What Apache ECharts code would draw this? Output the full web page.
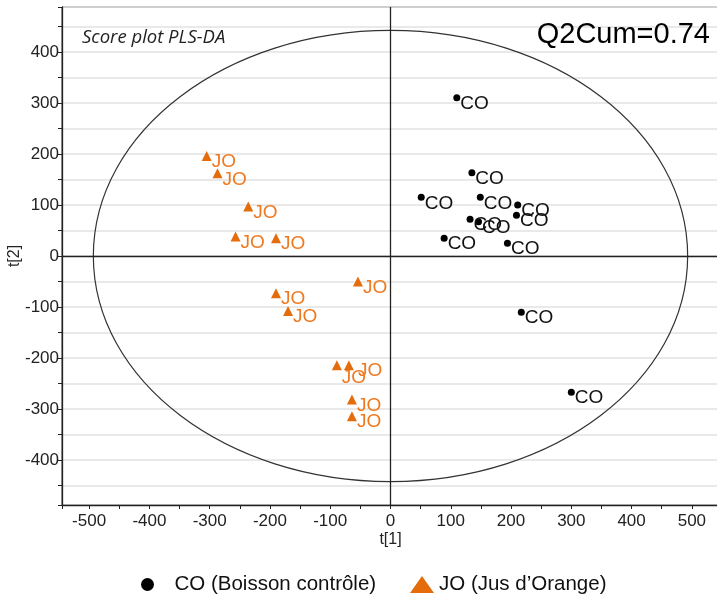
<!DOCTYPE html>
<html>
<head>
<meta charset="utf-8">
<script src="https://cdn.jsdelivr.net/npm/echarts@6/dist/echarts.min.js"></script>
<style>html,body{margin:0;padding:0;background:#fff}#c{width:717px;height:599px}</style>
</head>
<body>
<div id="c"></div>
<script>
// ---- data ----
const coX = [110, 135, 51, 149, 211, 209, 132, 146, 89, 194, 217, 300];
const coY = [310, 163, 115, 115, 100, 80, 72, 67, 35, 25, -110, -267];
const joX = [-305, -287, -236, -257, -190, -54, -190, -170, -89, -69, -64, -64];
const joY = [196, 162, 97, 38, 35, -50, -73, -108, -214, -214, -281, -314];
const coName = 'CO (Boisson contrôle)';
const joName = 'JO (Jus d’Orange)';
const ellipseRx = 493;   // Hotelling T2 ellipse semi-axes (t[1], t[2])
const ellipseRy = 442;
const xMin = -545, xMax = 545, yMin = -488, yMax = 488;

const FONT = '"Liberation Sans", Arial, sans-serif';
const ORANGE = '#E46C0A';

const coData = coX.map((x, i) => [x, coY[i]]);
const joData = joX.map((x, i) => {
  const item = { value: [x, joY[i]] };
  if (i === 8) item.label = { offset: [0, 13] };
  if (i === 9) item.label = { offset: [4, 6] };
  return item;
});

const tickFmt = v => (Math.round(v) % 100 === 0 ? String(Math.round(v)) : '');

const chart = echarts.init(document.getElementById('c'), null, { renderer: 'canvas' });
chart.setOption({
  animation: false,
  backgroundColor: '#fff',
  textStyle: { fontFamily: FONT },
  title: [
    { text: 'Score plot PLS-DA', left: 77, top: 23,
      textStyle: { fontFamily: '"Open Sans", sans-serif', fontStyle: 'italic', fontWeight: 'normal', fontSize: 18.5, color: '#222' } },
    { text: 'Q2Cum=0.74', right: 2, top: 15,
      textStyle: { fontFamily: FONT, fontWeight: 'normal', fontSize: 29, color: '#000' } }
  ],
  legend: [
    { data: [{ name: coName, icon: 'circle' }], left: 136, top: 569, itemWidth: 44, itemHeight: 13,
      textStyle: { fontFamily: FONT, fontSize: 20.5, color: '#111' }, selectedMode: false },
    { data: [{ name: joName, icon: 'triangle' }], left: 405, top: 569, itemWidth: 24, itemHeight: 17,
      textStyle: { fontFamily: FONT, fontSize: 20.5, color: '#111' }, selectedMode: false }
  ],
  grid: { left: 62, right: -2, top: 7, bottom: 94, show: true, borderColor: '#333', borderWidth: 1,
    containLabel: false, outerBoundsMode: 'none' },
  xAxis: {
    type: 'value', min: xMin, max: xMax, splitNumber: 20,
    name: 't[1]', nameLocation: 'middle', nameGap: 27, nameMoveOverlap: false,
    nameTextStyle: { fontFamily: FONT, fontSize: 16, color: '#222' },
    axisLine: { onZero: false, lineStyle: { color: '#222', width: 1.3 } },
    axisTick: { show: true, length: 4, inside: false, lineStyle: { color: '#222' } },
    axisLabel: { formatter: tickFmt, interval: 0, margin: 8, fontSize: 17, color: '#222', fontFamily: FONT, showMinLabel: true, showMaxLabel: true, hideOverlap: false },
    splitLine: { show: false }
  },
  yAxis: {
    type: 'value', min: yMin, max: yMax, splitNumber: 20,
    name: 't[2]', nameLocation: 'middle', nameGap: 39, nameRotate: 90, nameMoveOverlap: false,
    nameTextStyle: { fontFamily: FONT, fontSize: 16, color: '#222' },
    axisLine: { onZero: false, lineStyle: { color: '#222', width: 1.3 } },
    axisTick: { show: true, length: 4, inside: false, lineStyle: { color: '#222' } },
    axisLabel: { formatter: tickFmt, interval: 0, margin: 3, fontSize: 17, color: '#222', fontFamily: FONT, hideOverlap: false },
    splitLine: { show: true, lineStyle: { color: '#e2e2e2', width: 1.5 } }
  },
  series: [
    {
      type: 'custom', name: 'ellipse', silent: true, z: 1,
      data: [[0, 0]],
      renderItem: function (params, api) {
        const c = api.coord([0, 0]);
        const s = api.size([ellipseRx, ellipseRy]);
        return { type: 'ellipse', shape: { cx: c[0], cy: c[1], rx: s[0], ry: s[1] },
          style: { fill: null, stroke: '#333', lineWidth: 1.2 } };
      },
      markLine: {
        silent: true, symbol: 'none', label: { show: false },
        lineStyle: { color: '#222', width: 1.3, type: 'solid' },
        data: [{ xAxis: 0 }, { yAxis: 0 }]
      }
    },
    {
      type: 'scatter', name: coName, data: coData, z: 3,
      symbol: 'circle', symbolSize: 7,
      itemStyle: { color: '#000', opacity: 1 },
      label: { show: true, formatter: 'CO', position: 'right', distance: 0, offset: [0, 6],
        fontFamily: FONT, fontSize: 19, color: '#111' }
    },
    {
      type: 'scatter', name: joName, data: joData, z: 3,
      symbol: 'triangle', symbolSize: [10, 10],
      itemStyle: { color: ORANGE, opacity: 1 },
      label: { show: true, formatter: 'JO', position: 'right', distance: 0, offset: [0, 6],
        fontFamily: FONT, fontSize: 19, color: '#EE7A22' }
    }
  ]
});
</script>
</body>
</html>
